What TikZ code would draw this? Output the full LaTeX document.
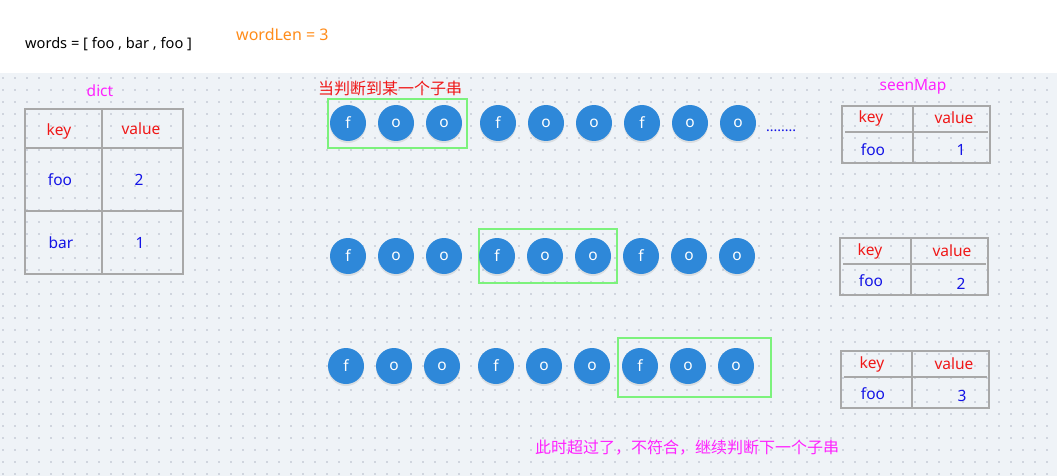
\documentclass[tikz,border=0pt]{standalone}
\usepackage{fontspec}
\setmainfont{Noto Sans}
\newfontfamily\cjk{Noto Sans CJK SC}
\usetikzlibrary{shadows}
\definecolor{bg}{HTML}{EFF3F7}
\definecolor{dotc}{HTML}{D0D5DE}
\definecolor{ballc}{HTML}{2E88D9}
\definecolor{gridc}{HTML}{A8A8A8}
\definecolor{greenc}{HTML}{7CF27C}
\definecolor{keyred}{HTML}{F01818}
\definecolor{valblue}{HTML}{1414E6}
\definecolor{mag}{HTML}{FF22FF}
\definecolor{orangec}{HTML}{FF8C1A}
\begin{document}
\begin{tikzpicture}[x=1pt,y=-1pt,
  ball/.style={circle, fill=ballc, minimum size=36pt, inner sep=0pt, text=white,
    font=\fontsize{15.5}{16}\selectfont,
    drop shadow={opacity=0.18, shadow xshift=0pt, shadow yshift=-2pt}},
  tline/.style={draw=gridc, line width=1.6pt},
  gbox/.style={draw=greenc, line width=1.4pt},
  kt/.style={text=keyred, font=\fontsize{15.5}{16}\selectfont, inner sep=0pt},
  vt/.style={text=valblue, font=\fontsize{15.5}{16}\selectfont, inner sep=0pt},
  lab/.style={text=mag, font=\fontsize{15.5}{16}\selectfont, inner sep=0pt},
  cjkt/.style={font=\cjk\fontsize{16}{16}\selectfont, inner sep=0pt}]
\useasboundingbox (0,0) rectangle (1057,476);
\fill[white] (0,0) rectangle (1057,476);
\fill[bg] (0,73) rectangle (1057,476);
\foreach \i in {0,...,87} \foreach \j in {0,...,33} \fill[dotc] (2+12*\i,77+12*\j) rectangle +(1.7,1.7);

% top texts
\node[inner sep=0pt, anchor=west, font=\fontsize{14.6}{15}\selectfont] (words) at (25,44) {words = [ foo , bar , foo ]};
\node[inner sep=0pt, anchor=west, text=orangec, font=\fontsize{16}{16}\selectfont] (wordlen) at (236,35) {wordLen = 3};

% dict table
\node[lab] (dictlab) at (100,91) {dict};
\draw[tline] (25,109) rectangle (183,274);
\draw[tline] (102,109) -- (102,274);
\draw[tline] (26,148) -- (182,148);
\draw[tline] (26,211) -- (182,211);
\node[kt] (dk) at (59,131) {key};
\node[kt] (dv) at (141,129) {value};
\node[vt] (d1k) at (60,180) {foo};
\node[vt] (d1v) at (139,180) {2};
\node[vt] (d2k) at (61,243) {bar};
\node[vt] (d2v) at (140,243) {1};

% row 1
\node[cjkt, text=keyred, anchor=west] (note1) at (318,88) {当判断到某一个子串};
\draw[gbox] (328,99) rectangle (467,148);
\foreach \x/\t [count=\k] in {348/f,396/o,444/o,498/f,546/o,594/o,642/f,690/o,738/o}
  \node[ball] (a\k) at (\x,123) {\t};
\node[inner sep=0pt, text=valblue, anchor=west, font=\bfseries\fontsize{14}{14}\selectfont] (dots) at (766,131) {........};

% row 2
\draw[gbox] (479,229) rectangle (617,283);
\foreach \x/\t [count=\k] in {348/f,396/o,444/o,497/f,545/o,593/o,641/f,689/o,737/o}
  \node[ball] (b\k) at (\x,256) {\t};

% row 3
\draw[gbox] (618,338) rectangle (771,397);
\foreach \x/\t [count=\k] in {346/f,394/o,442/o,496/f,544/o,592/o,640/f,688/o,736/o}
  \node[ball] (c\k) at (\x,366) {\t};

\node[cjkt, text=mag, anchor=west] (note2) at (535,448) {此时超过了，不符合，继续判断下一个子串};

% seenMap 1
\node[lab] (seenlab) at (913,87) {seenMap};
\draw[tline] (842,106) rectangle (990,163);
\draw[tline] (913,106) -- (913,163);
\draw[tline] (845,132) -- (988,132);
\node[kt] (s1k) at (871,118) {key};
\node[kt] (s1v) at (954,118) {value};
\node[vt] (s1a) at (873,150) {foo};
\node[vt] (s1b) at (961,150) {1};

% seenMap 2
\draw[tline] (840,238) rectangle (988,295);
\draw[tline] (911,238) -- (911,296);
\draw[tline] (843,264) -- (986,264);
\node[kt] (s2k) at (870,251) {key};
\node[kt] (s2v) at (952,251) {value};
\node[vt] (s2a) at (871,281) {foo};
\node[vt] (s2b) at (961,284) {2};

% seenMap 3
\draw[tline] (841,351) rectangle (989,408);
\draw[tline] (912,351) -- (912,408);
\draw[tline] (844,377) -- (987,377);
\node[kt] (s3k) at (872,364) {key};
\node[kt] (s3v) at (954,364) {value};
\node[vt] (s3a) at (873,394) {foo};
\node[vt] (s3b) at (962,396) {3};
\end{tikzpicture}
\end{document}
